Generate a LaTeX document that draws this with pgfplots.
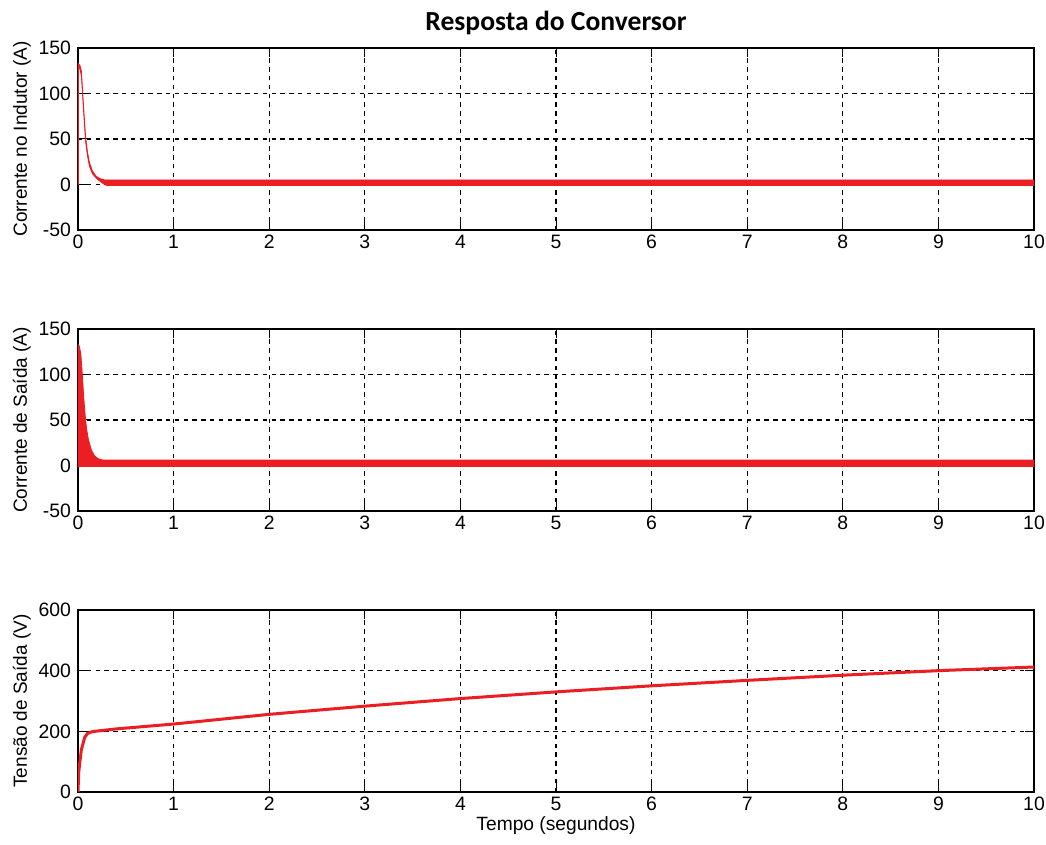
\documentclass[border=0pt]{standalone}
\usepackage{pgfplots}
\pgfplotsset{compat=1.18}
\usepackage{fontspec}
\setmainfont{Liberation Sans}
\newfontfamily\titlefont{Carlito}
\definecolor{mred}{RGB}{235,30,35}
\pgfplotsset{
  mstyle/.style={
    scale only axis, width=478pt, height=91pt,
    xmin=0, xmax=10, xtick={0,1,...,10},
    grid=major,
    major grid style={black, dash pattern=on 2.2pt off 2.2pt, line width=0.6pt},
    axis line style={black, line width=0.6pt},
    tick style={black, line width=0.5pt},
    tick align=inside, ticklabel style={font=\fontsize{9.7}{11}\selectfont},
    /pgf/number format/assume math mode=true,
    ylabel style={font=\fontsize{9.5}{11}\selectfont, yshift=-3pt},
    xlabel style={font=\fontsize{9.6}{11}\selectfont},
    clip=true,
    xticklabel style={yshift=1pt},
  }
}
\begin{document}
\begin{tikzpicture}
\useasboundingbox (-39pt,115pt) rectangle (484pt,-307.5pt);
% Top axis
\begin{axis}[mstyle, at={(0,0)}, anchor=south west,
  ymin=-50, ymax=150, ytick={-50,0,50,100,150},
  ylabel={Corrente no Indutor (A)},
  title={\titlefont\bfseries\fontsize{13.8}{15}\selectfont Resposta do Conversor},
  title style={yshift=-3pt}]
\addplot[fill=mred, draw=mred, line width=0.4pt] coordinates {
 (0,0) (0,133) (0.02,131) (0.035,125) (0.05,100) (0.065,75) (0.08,52) (0.1,35) (0.12,24) (0.15,15) (0.19,9) (0.23,6.5) (0.28,5) (0.3,5)
 (10,5) (10,-1) (0.3,-1) (0.28,0) (0.25,2) (0.2,6) (0.15,12) (0.12,20) (0.1,31) (0.08,47) (0.065,70) (0.05,95) (0.035,120) (0.02,127) (0.005,128) (0.005,0)
} -- cycle;
\end{axis}
% Middle axis
\begin{axis}[mstyle, at={(0,-140.5pt)}, anchor=south west,
  ymin=-50, ymax=150, ytick={-50,0,50,100,150},
  ylabel={Corrente de Saída (A)}]
\addplot[fill=mred, draw=mred, line width=0.4pt] coordinates {
 (0,0) (0,133) (0.015,131) (0.03,122) (0.045,100) (0.06,75) (0.075,55) (0.09,40) (0.11,28) (0.14,17) (0.17,11) (0.21,7.5) (0.26,6) (0.3,6)
 (10,6) (10,-1) (0,-1)
} -- cycle;
\end{axis}
% Bottom axis
\begin{axis}[mstyle, at={(0,-281pt)}, anchor=south west,
  ymin=0, ymax=600, ytick={0,200,400,600},
  ylabel={Tensão de Saída (V)},
  xlabel={Tempo (segundos)}, xlabel style={yshift=4pt}]
\addplot[mred, line width=1.5pt] coordinates {
 (0,0) (0.007,62) (0.018,95) (0.035,139) (0.07,180) (0.1,193) (0.15,199) (0.23,202) (0.4,208) (0.7,216) (1,224) (1.5,240) (2,256) (3,283) (4,308) (5,330) (6,350) (7,368) (8,385) (9,400) (10,412)
};
\end{axis}
\end{tikzpicture}
\end{document}
